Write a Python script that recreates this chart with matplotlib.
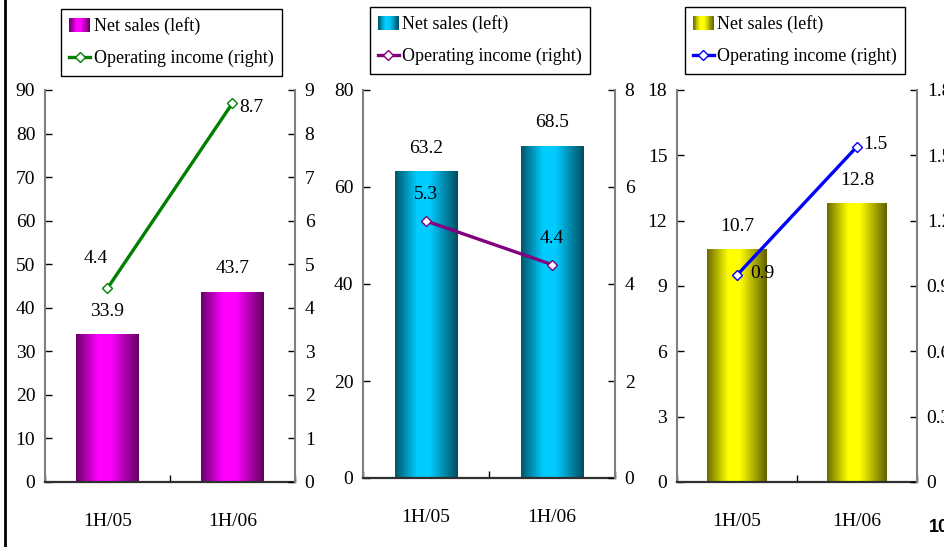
import numpy as np
import matplotlib
matplotlib.use("Agg")
import matplotlib.pyplot as plt
from matplotlib.legend_handler import HandlerBase
from matplotlib.patches import Rectangle
from matplotlib.lines import Line2D
import matplotlib.colors as mcolors

plt.rcParams['font.family'] = ['Liberation Serif', 'DejaVu Serif']

# ---------------- data ----------------
categories = ["1H/05", "1H/06"]

sales_a = [33.9, 43.7]
income_a = [4.45, 8.7]
income_a_labels = ["4.4", "8.7"]

sales_b = [63.2, 68.5]
income_b = [5.3, 4.4]
income_b_labels = ["5.3", "4.4"]

sales_c = [10.7, 12.8]
income_c = [0.95, 1.54]
income_c_labels = ["0.9", "1.5"]

left_ticks_a = [0, 10, 20, 30, 40, 50, 60, 70, 80, 90]
right_ticks_a = [0, 1, 2, 3, 4, 5, 6, 7, 8, 9]
left_ticks_b = [0, 20, 40, 60, 80]
right_ticks_b = [0, 2, 4, 6, 8]
left_ticks_c = [0, 3, 6, 9, 12, 15, 18]
right_ticks_c = [0, 0.3, 0.6, 0.9, 1.2, 1.5, 1.8]
right_tick_labels_c = ["0", "0.3", "0.6", "0.9", "1.2", "1.5", "1.8"]

legend_labels = ["Net sales (left)", "Operating income (right)"]

W, H = 945, 547
fig = plt.figure(figsize=(W / 100, H / 100), dpi=100)
fig.patch.set_facecolor("white")

FS = 14


def shade(color, t):
    rgb = np.array(mcolors.to_rgb(color))
    p = np.interp(t, [0, 0.35, 0.55, 1.0], [0.42, 1.0, 1.0, 0.38])
    return tuple(rgb * p)


class GradHandler(HandlerBase):
    def __init__(self, color, n=24):
        super().__init__()
        self.color = color
        self.n = n

    def create_artists(self, legend, orig_handle, xdescent, ydescent,
                       width, height, fontsize, trans):
        arts = []
        for i in range(self.n):
            t = (i + 0.5) / self.n
            r = Rectangle((-xdescent + width * i / self.n, -ydescent),
                          width / self.n * 1.08, height,
                          facecolor=shade(self.color, t), edgecolor='none',
                          transform=trans)
            arts.append(r)
        return arts


def panel(rect_px, sales, income, income_labels, income_offsets,
          lticks, rticks, rlabels, bar_color, line_color, leg_center_px, leg_top_px):
    l, r, t, b = rect_px
    ax = fig.add_axes([l / W, (H - b) / H, (r - l) / W, (b - t) / H])
    x = np.arange(len(categories))
    bars = ax.bar(x, sales, width=0.5, color=bar_color, zorder=2)
    ax.set_xlim(-0.5, 1.5)
    ax.set_ylim(lticks[0], lticks[-1])
    # gradient fill
    grad = np.array([[shade(bar_color, tt) for tt in np.linspace(0, 1, 128)]])
    for rect in bars:
        bb = rect.get_bbox()
        im = ax.imshow(grad, extent=[bb.x0, bb.x1, bb.y0, bb.y1],
                       aspect='auto', zorder=2.1, interpolation='bilinear')
        im.set_clip_path(rect)
    ax.set_xlim(-0.5, 1.5)
    ax.set_ylim(lticks[0], lticks[-1])
    for xi, v in zip(x, sales):
        ax.annotate(f"{v:.1f}", (xi, v), xytext=(0, 16.5), textcoords='offset points',
                    ha='center', va='center', fontsize=FS, zorder=5)

    ax.set_yticks(lticks)
    ax.set_yticklabels([str(v) for v in lticks])
    ax.set_xticks(x)
    ax.set_xticklabels(categories)
    ax.set_xticks([-0.5, 0.5, 1.5], minor=True)
    ax.tick_params(axis='x', which='major', length=0, pad=22, labelsize=FS)
    ax.tick_params(axis='x', which='minor', direction='in', length=5, width=1)
    ax.tick_params(axis='y', direction='in', length=5, width=1, pad=7, labelsize=FS)
    for s in ['top', 'right']:
        ax.spines[s].set_visible(False)
    ax.spines['left'].set_color('#808080')
    ax.spines['left'].set_linewidth(1.5)
    ax.spines['bottom'].set_color('#303030')
    ax.spines['bottom'].set_linewidth(1.6)
    ax.set_facecolor('none')

    ax2 = ax.twinx()
    ax2.set_ylim(rticks[0], rticks[-1])
    ax2.plot(x, income, color=line_color, lw=2.4, marker='D', markersize=5,
             markerfacecolor='white', markeredgecolor=line_color, markeredgewidth=1,
             zorder=4)
    for xi, v, lab, off in zip(x, income, income_labels, income_offsets):
        dx, dy, ha = off
        ax2.annotate(lab, (xi, v), xytext=(dx, dy), textcoords='offset points',
                     ha=ha, va='center', fontsize=FS)
    ax2.set_yticks(rticks)
    ax2.set_yticklabels(rlabels)
    ax2.tick_params(axis='y', direction='in', length=5, width=1, pad=7, labelsize=FS)
    for s in ['top', 'left', 'bottom']:
        ax2.spines[s].set_visible(False)
    ax2.spines['right'].set_color('#808080')
    ax2.spines['right'].set_linewidth(1.5)

    bar_proxy = Rectangle((0, 0), 1, 1, facecolor=bar_color)
    line_proxy = Line2D([], [], color=line_color, lw=2.4, marker='D', markersize=5,
                        markerfacecolor='white', markeredgecolor=line_color)
    leg = fig.legend([bar_proxy, line_proxy], legend_labels,
                     loc='upper center',
                     bbox_to_anchor=(leg_center_px / W, (H - leg_top_px) / H),
                     handler_map={bar_proxy: GradHandler(bar_color)},
                     fontsize=13, frameon=True, fancybox=False, framealpha=1,
                     edgecolor='black', borderaxespad=0, borderpad=0.45,
                     handlelength=1.15, handleheight=0.85, handletextpad=0.2,
                     labelspacing=0.82)
    leg.get_frame().set_linewidth(1.0)
    return ax, ax2


panel((45, 295, 90, 482), sales_a, income_a, income_a_labels,
      [(-8.6, 21.6, 'center'), (5, -3, 'left')],
      left_ticks_a, right_ticks_a, [str(v) for v in right_ticks_a],
      '#FF00FF', '#008000', 171.5, 9)

panel((363, 615, 90, 478), sales_b, income_b, income_b_labels,
      [(0, 19.4, 'center'), (0, 18.7, 'center')],
      left_ticks_b, right_ticks_b, [str(v) for v in right_ticks_b],
      '#00CCFF', '#800080', 480, 7)

panel((677, 917, 90, 482), sales_c, income_c, income_c_labels,
      [(18, 1.4, 'center'), (13, 1.4, 'center')],
      left_ticks_c, right_ticks_c, right_tick_labels_c,
      '#FFFF00', '#0000FF', 795, 7)

# left page border line
fig.add_artist(Line2D([5 / W, 5 / W], [0, 1], transform=fig.transFigure,
                      color='black', lw=2.0))
# page number (cut off at the edge, as in the reference)
fig.text(929 / W, (H - 527) / H, "10", fontsize=13, fontweight='bold',
         family='Liberation Sans', ha='left', va='center')

fig.savefig("out.png", dpi=100, facecolor='white')
